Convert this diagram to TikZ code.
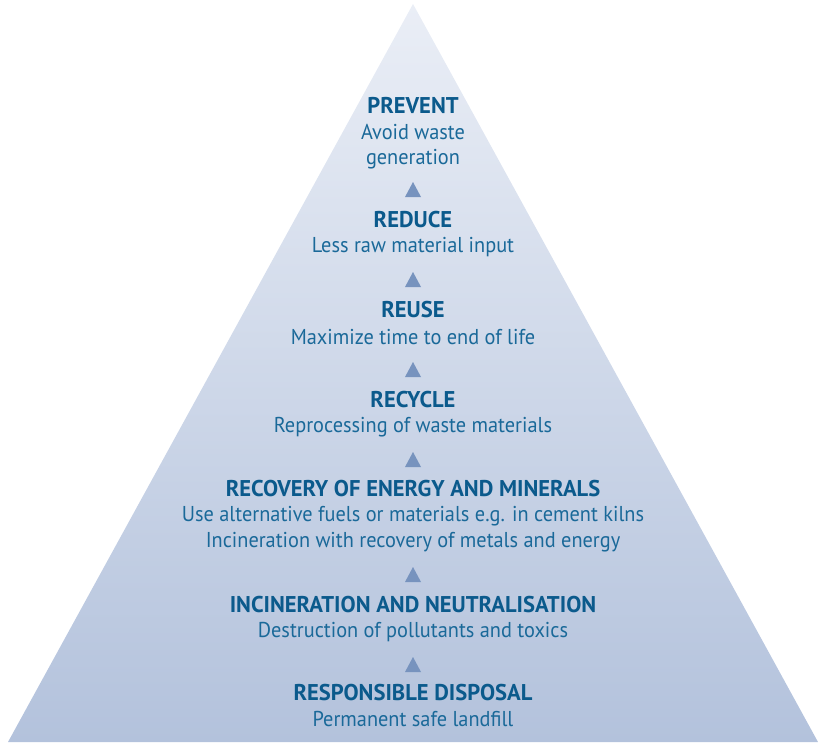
\documentclass[tikz,border=0pt]{standalone}
\usepackage{fontspec}
\setmainfont{PT Sans}
\newfontfamily\headfont[FakeStretch=0.99]{PT Sans}
\newfontfamily\bodyfont[FakeStretch=0.945]{PT Sans}
\definecolor{pyrtop}{HTML}{EAEEF6}
\definecolor{pyrbot}{HTML}{B3C2DC}
\definecolor{headblue}{HTML}{0B5A8C}
\definecolor{textblue}{HTML}{1A6999}
\definecolor{arrowblue}{HTML}{7793BE}
\begin{document}
\begin{tikzpicture}[x=1pt,y=-1pt,
  head/.style={font=\headfont\fontsize{22.8}{26}\selectfont\bfseries, text=headblue, inner sep=0pt, anchor=center},
  body/.style={font=\bodyfont\fontsize{21.5}{25}\selectfont, text=textblue, inner sep=0pt, anchor=center},
  uparrow/.style={fill=arrowblue, draw=none}]
\useasboundingbox (0,0) rectangle (818,742);
% pyramid body with vertical gradient
\shade[top color=pyrtop, bottom color=pyrbot] (413,4) -- (818,742) -- (8,742) -- cycle;
% level labels
\node[head] (prevent) at (413,105) {PREVENT};
\node[body] (prevent1) at (413,132) {Avoid waste};
\node[body] (prevent2) at (413,159) {generation};
\node[head] (reduce) at (413,220) {REDUCE};
\node[body] (reduce1) at (413,247) {Less raw material input};
\node[head] (reuse) at (413,310) {REUSE};
\node[body] (reuse1) at (413,337) {Maximize time to end of life};
\node[head] (recycle) at (413,400) {RECYCLE};
\node[body] (recycle1) at (413,427) {Reprocessing of waste materials};
\node[head] (recovery) at (413,489) {RECOVERY OF ENERGY AND MINERALS};
\node[body] (recovery1) at (413,516) {Use alternative fuels or materials e.g. in cement kilns};
\node[body] (recovery2) at (413,542) {Incineration with recovery of metals and energy};
\node[head] (incin) at (413,605) {INCINERATION AND NEUTRALISATION};
\node[body] (incin1) at (413,632) {Destruction of pollutants and toxics};
\node[head] (disposal) at (413,693) {RESPONSIBLE DISPOSAL};
\node[body] (disposal1) at (413,719) {Permanent safe landfill};
% small upward arrows between levels
\foreach \y in {189,279,369,459,574,664}
  \fill[uparrow] (405,\y+8) -- (421,\y+8) -- (413,\y-7) -- cycle;
\end{tikzpicture}
\end{document}
